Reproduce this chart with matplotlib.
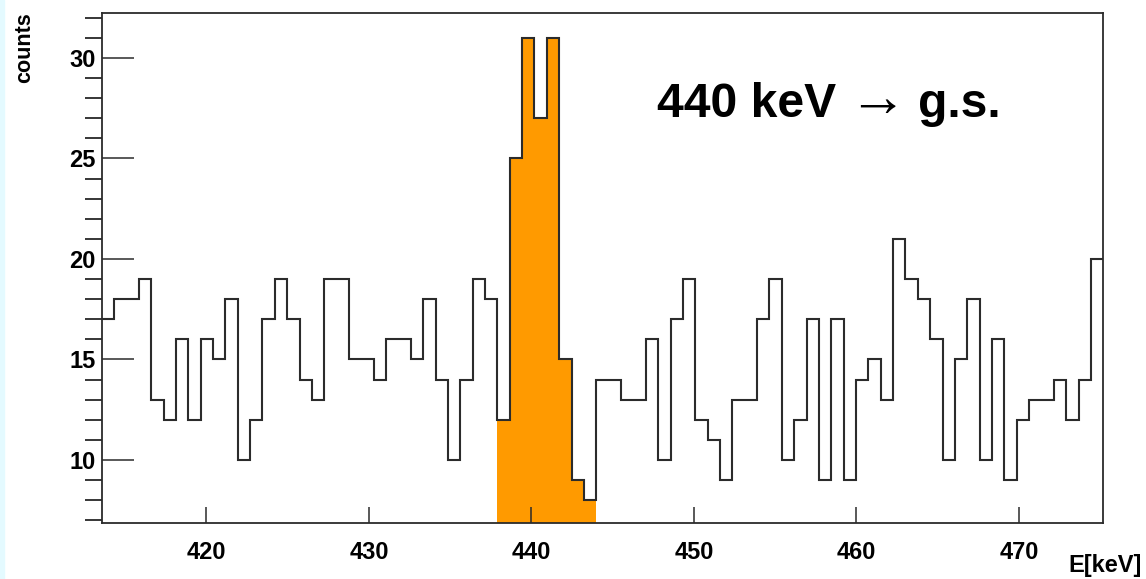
import numpy as np
import matplotlib
matplotlib.use('Agg')
import matplotlib.pyplot as plt
from matplotlib.patches import Rectangle

# histogram, 81 bins between e_lo and e_hi (keV)
e_lo = 413.55
e_hi = 475.2
counts = [17, 18, 18, 19, 13, 12, 16, 12, 16, 15, 18, 10, 12, 17, 19, 17, 14, 13, 19, 19,
          15, 15, 14, 16, 16, 15, 18, 14, 10, 14, 19, 18, 12, 25, 31, 27, 31, 15, 9, 8,
          14, 14, 13, 13, 16, 10, 17, 19, 12, 11, 9, 13, 13, 17, 19, 10, 12, 17, 9, 17,
          9, 14, 15, 13, 21, 19, 18, 16, 10, 15, 18, 10, 16, 9, 12, 13, 13, 14, 12, 14, 20]
# gated peak region (keV)
peak_lo = 438
peak_hi = 444

x_ticks = [420, 430, 440, 450, 460, 470]
y_ticks = [10, 15, 20, 25, 30]

plt.rcParams['font.family'] = ['Liberation Sans', 'DejaVu Sans']
plt.rcParams['font.weight'] = 'bold'

edges = np.linspace(e_lo, e_hi, len(counts) + 1)
centers = 0.5 * (edges[:-1] + edges[1:])
sel = np.where((centers > peak_lo) & (centers < peak_hi))[0]
counts = np.array(counts)

fig = plt.figure(figsize=(11.46, 5.79), dpi=100)
fig.patches.append(Rectangle((0, 0), 4 / 1146, 1, transform=fig.transFigure,
                             color='#e4faff', zorder=0))
ax = fig.add_axes([101.7 / 1146, 1 - 523.3 / 579, 1001.6 / 1146, 510 / 579])

ax.stairs(counts[sel], edges[sel[0]:sel[-1] + 2], fill=True, color='#ff9a00', zorder=1)
ax.stairs(counts, edges, color='#2b2b2b', linewidth=1.5, baseline=None, zorder=2)

ax.set_xlim(e_lo, e_hi)
ax.set_ylim(6.85, 32.22)
ax.set_xticks(x_ticks)
ax.set_yticks(y_ticks)
ax.set_yticks(range(7, 33), minor=True)
ax.tick_params(axis='both', direction='in', labelsize=17, width=1.1, color='#2b2b2b')
ax.tick_params(axis='y', which='major', length=23, pad=4.5)
ax.tick_params(axis='y', which='minor', length=12, width=1.1)
ax.tick_params(axis='x', which='major', length=11.5, pad=13)
for s in ax.spines.values():
    s.set_linewidth(1.3)
    s.set_color('#2b2b2b')

fig.text(25 / 1146, 1 - 12 / 579, 'counts', rotation=90, ha='center', va='top',
         fontsize=15.5, fontweight='bold')
fig.text(1142 / 1146, 1 - 572 / 579, 'E[keV]', ha='right', va='baseline',
         fontsize=17, fontweight='bold')

yb = 1 - 117.3 / 579
fig.text(657 / 1146, yb, '440 keV', ha='left', va='baseline', fontsize=34.6, fontweight='bold')
fig.text(877 / 1146, yb + 1 / 579, '\u2192', ha='center', va='baseline', fontsize=42, fontweight='normal')
fig.text(918 / 1146, yb, 'g.s.', ha='left', va='baseline', fontsize=34.6, fontweight='bold')

plt.savefig('out.png', dpi=100)
